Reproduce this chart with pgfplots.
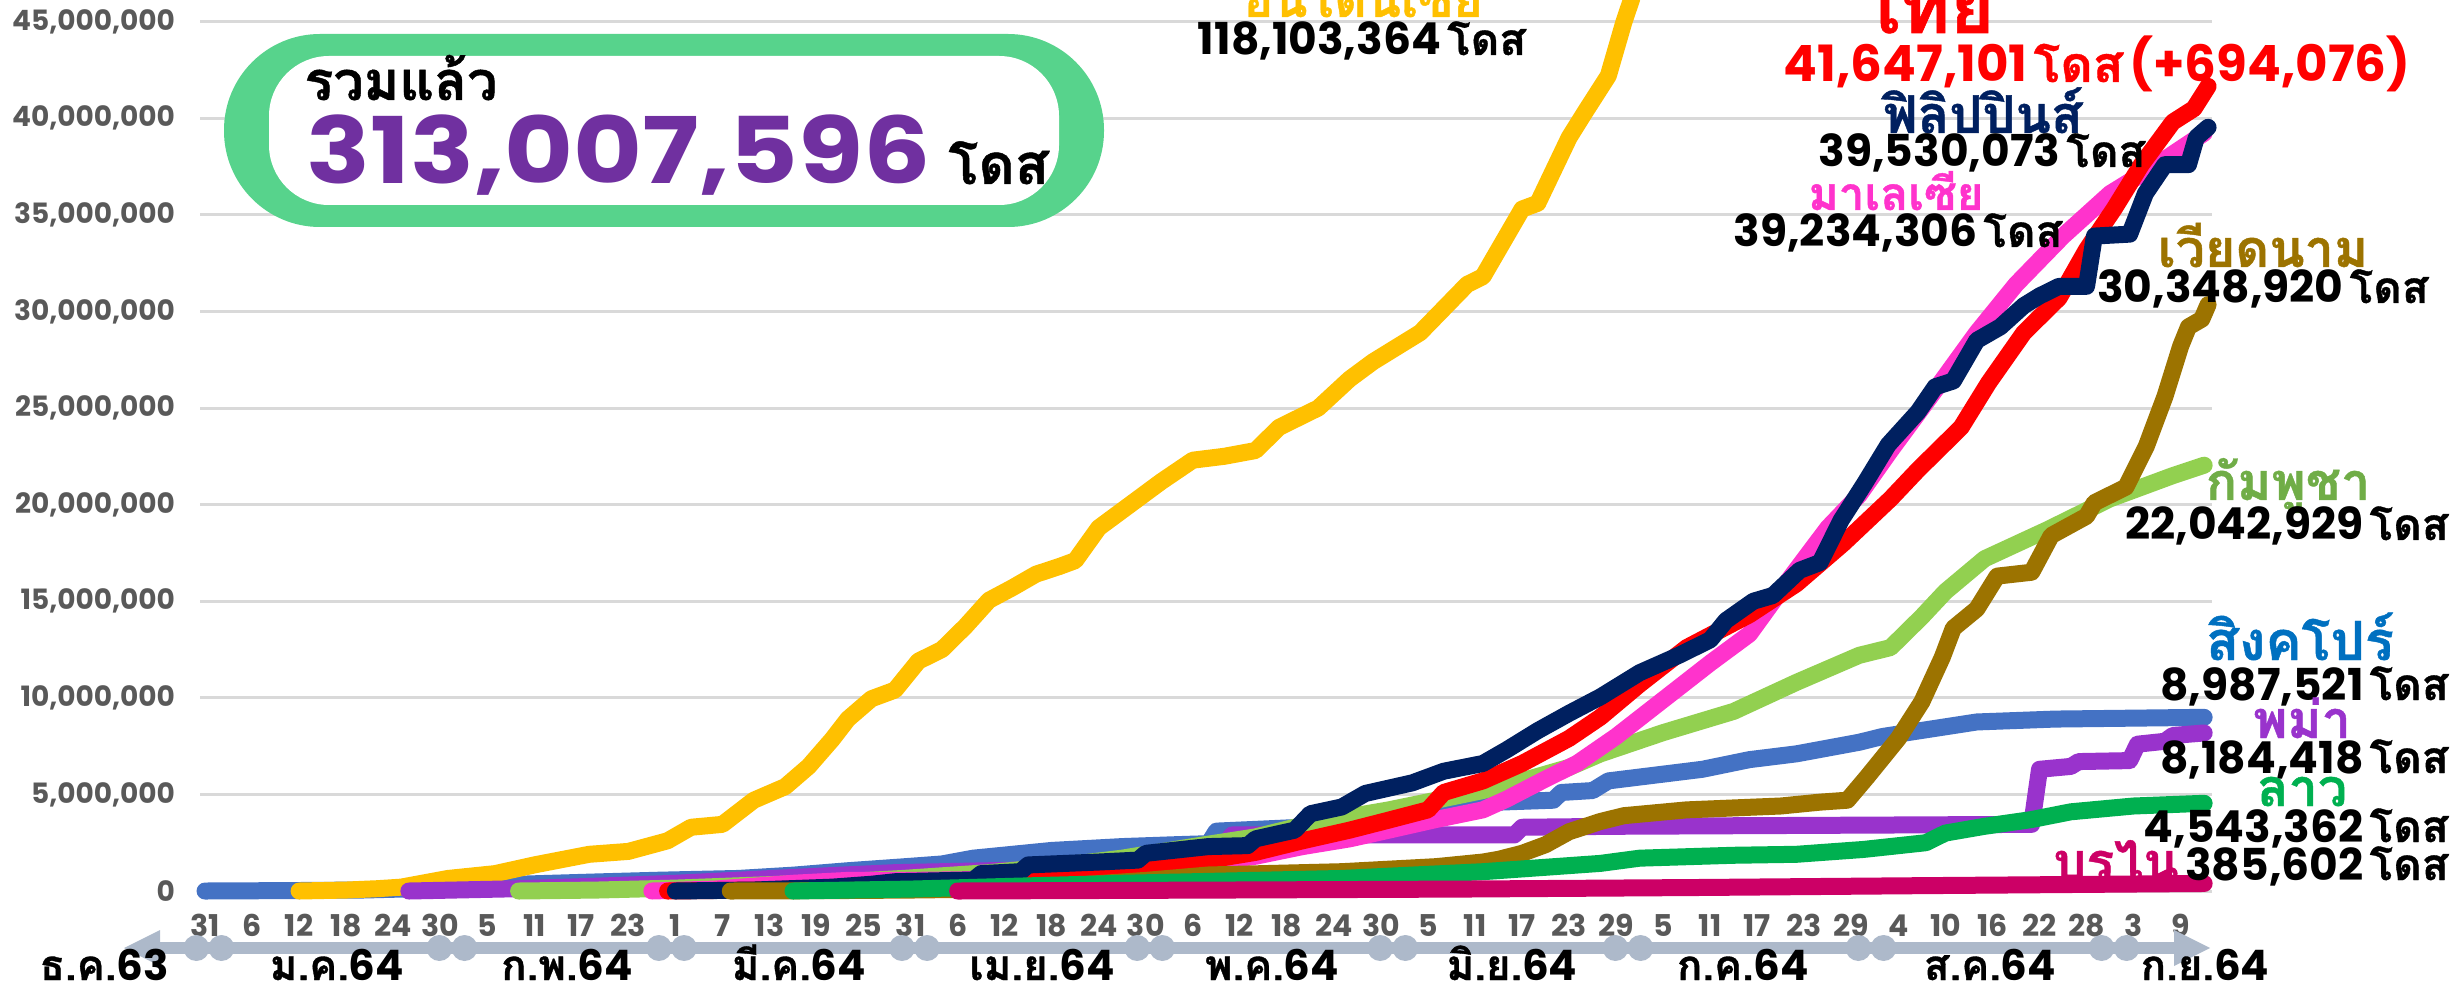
\documentclass[border=0pt]{standalone}
\usepackage{pgfplots}
\pgfplotsset{compat=1.18}
\usepackage{fontspec}
\setmainfont{Poppins}
\newfontfamily\thf[Script=Thai, BoldFeatures={FakeBold=0.8}]{Loma}
\newfontfamily\pop{Poppins}
\newfontfamily\popw[FakeStretch=1.15]{Poppins}
\definecolor{sgc}{HTML}{4472C4}
\definecolor{idc}{HTML}{FFC000}
\definecolor{mmc}{HTML}{9933CC}
\definecolor{khc}{HTML}{92D050}
\definecolor{myc}{HTML}{FF33CC}
\definecolor{thc}{HTML}{FF0000}
\definecolor{phc}{HTML}{002060}
\definecolor{vnc}{HTML}{9C7300}
\definecolor{lac}{HTML}{00B050}
\definecolor{bnc}{HTML}{CC0066}
\definecolor{gridc}{HTML}{D9D9D9}
\definecolor{tickc}{HTML}{595959}
\definecolor{arrc}{HTML}{ADB9CA}
\definecolor{boxc}{HTML}{57D38C}
\definecolor{bigc}{HTML}{7030A0}
\definecolor{khtext}{HTML}{70AD47}
\definecolor{sgtext}{HTML}{0070C0}
\newcommand\fs[1]{\fontsize{#1}{#1}\selectfont}
\newcommand\dose[2]{{\pop\bfseries\fs{#1}#2}\hspace{0.3em}{\thf\bfseries\fs{#1}โดส}}
\newcommand\mon[3]{{\thf\bfseries\fs{#1}#2}{\pop\bfseries\fs{#1}#3}}
\begin{document}
\begin{tikzpicture}
\begin{axis}[
  at={(100pt,41.7pt)}, anchor=south west,
  scale only axis, width=1006pt, height=451.3pt,
  xmin=-0.64, xmax=256, ymin=-0.6, ymax=46.12,
  axis line style={draw=none},
  tick style={draw=none},
  major tick length=0pt,
  no markers,
  ytick={0,5,10,15,20,25,30,35,40,45},
  yticklabels={0,{5,000,000},{10,000,000},{15,000,000},{20,000,000},{25,000,000},{30,000,000},{35,000,000},{40,000,000},{45,000,000}},
  ymajorgrids, grid style={line width=1.5pt, gridc},
  xtick={0,6,...,252},
  xticklabels={31,6,12,18,24,30,5,11,17,23,1,7,13,19,25,31,6,12,18,24,30,6,12,18,24,30,5,11,17,23,29,5,11,17,23,29,4,10,16,22,28,3,9},
  xmajorgrids=false,
  yticklabel style={font=\pop\bfseries\fs{14}, text=tickc, anchor=east, xshift=-9pt},
  xticklabel style={font=\pop\bfseries\fs{15}, text=tickc, anchor=base, yshift=-17pt},
  clip=false,
  every axis plot/.append style={line width=8.5pt, line join=round, line cap=round},
]
% Singapore
\addplot[sgc] coordinates {(0,0) (10,0.02) (20,0.05) (30,0.15) (40,0.35) (50,0.47) (58,0.56) (68,0.65) (75,0.82) (82,1.05) (89,1.25) (94,1.4) (98,1.7) (108,2.1) (117,2.3) (124,2.4) (128,2.45) (129,3.1) (140,3.3) (150,3.9) (157,4.3) (165,4.6) (172,4.7) (173,5.1) (177,5.2) (179,5.7) (185,6.0) (191,6.3) (197,6.8) (203,7.1) (211,7.7) (214,8.0) (222,8.5) (226,8.75) (236,8.9) (255,8.99)};
% Indonesia
\addplot[idc] coordinates {(12,0) (18,0.05) (22,0.12) (25,0.2) (31,0.65) (37,0.9) (42,1.35) (49,1.9) (54,2.05) (59,2.6) (62,3.3) (66,3.45) (70,4.7) (74,5.4) (77,6.45) (80,7.85) (82,8.9) (85,9.95) (88,10.4) (91,11.9) (94,12.5) (97,13.7) (100,15.05) (103,15.7) (106,16.4) (109,16.8) (111,17.1) (114,18.8) (118,20.0) (122,21.2) (126,22.3) (130,22.5) (134,22.8) (137,24.0) (140,24.6) (142,25.0) (146,26.5) (149,27.4) (155,28.9) (161,31.4) (163,31.8) (168,35.3) (170,35.6) (174,39.0) (176,40.3) (179,42.2) (181,45.0) (182,46.2)};
% Myanmar
\addplot[mmc] coordinates {(26,0) (40,0.12) (50,0.25) (60,0.4) (70,0.6) (80,0.8) (88,0.95) (100,1.05) (114,1.17) (128,1.4) (131,2.9) (167,2.9) (168,3.3) (180,3.35) (233,3.45) (234,6.3) (238,6.45) (239,6.7) (245.5,6.75) (246.5,7.6) (250,7.75) (251,8.05) (255,8.18)};
% Cambodia
\addplot[khc] coordinates {(40,0) (50,0.05) (60,0.15) (70,0.3) (80,0.45) (89,0.65) (100,0.95) (108,1.26) (117,1.7) (126,2.3) (134,2.8) (140,3.4) (146,3.85) (151,4.2) (157,4.7) (163,5.2) (168,5.7) (174,6.4) (178,7.1) (186,8.2) (195,9.3) (203,10.8) (211,12.2) (215,12.6) (219,14.2) (222,15.5) (227,17.2) (235,18.7) (243,20.3) (251,21.5) (255,22.04)};
% Malaysia
\addplot[myc] coordinates {(57,0) (65,0.1) (75,0.4) (82,0.55) (90,0.55) (100,0.6) (110,0.8) (120,1.1) (128,1.5) (134,1.8) (140,2.3) (146,2.7) (151,3.15) (157,3.7) (163,4.2) (166,4.75) (171,5.8) (175,6.6) (180,8.0) (186,9.9) (192,11.8) (197,13.3) (202,16.1) (207,18.8) (211,20.5) (215,22.8) (221,26.1) (226,28.9) (231,31.4) (237,33.9) (243,36.1) (249,37.6) (255,39.23)};
% Thailand
\addplot[thc] coordinates {(59,0) (70,0.05) (80,0.15) (90,0.2) (100,0.3) (108,0.57) (114,0.9) (123,1.26) (128,1.6) (134,2.0) (140,2.6) (146,3.15) (151,3.67) (156,4.2) (158,5.1) (163,5.7) (168,6.6) (174,7.9) (178,9.0) (183,10.7) (189,12.6) (197,14.3) (203,15.9) (209,18.0) (215,20.3) (218.5,21.8) (224,24.0) (227.5,26.3) (232,28.9) (236.5,30.7) (240,33.2) (243.5,35.3) (247,37.6) (251,39.8) (253.7,40.5) (255.5,41.65)};
% Philippines
\addplot[phc] coordinates {(60,0) (70,0.05) (80,0.2) (85,0.35) (88,0.48) (98,0.57) (99,0.9) (104,1.0) (105,1.35) (114,1.5) (119,1.6) (120,1.95) (128,2.3) (133,2.35) (134,2.7) (139,3.15) (141,4.0) (145,4.35) (148,5.05) (154,5.6) (158,6.2) (163,6.6) (166,7.3) (170,8.3) (174,9.2) (178,10.05) (183,11.3) (188,12.2) (192,13.0) (194,14.0) (197.5,15.0) (200,15.3) (203.4,16.6) (206,17.0) (208.7,19.2) (211.7,21.1) (214.7,23.1) (218.5,24.8) (220.7,26.1) (223,26.4) (226,28.5) (229,29.2) (232,30.3) (234,30.8) (236.5,31.3) (240,31.3) (241,33.9) (245.5,34.0) (247.5,36.1) (250,37.6) (253,37.6) (254,39.0) (255.5,39.53)};
% Vietnam
\addplot[vnc] coordinates {(67,0) (80,0.02) (90,0.05) (100,0.1) (111,0.3) (120,0.55) (128,0.83) (145,1.0) (157,1.26) (163,1.5) (165,1.64) (168,1.95) (171,2.4) (174,3.07) (178,3.6) (181,3.9) (189,4.2) (201,4.4) (206,4.6) (209.5,4.7) (212,5.9) (216,7.9) (219,9.8) (221.6,12.1) (223,13.6) (226,14.6) (228.6,16.3) (233,16.5) (235.5,18.4) (240,19.4) (241,20.1) (245,20.9) (247.6,23.0) (250,25.6) (252,28.2) (253,29.2) (254.7,29.6) (255.5,30.35)};
% Laos
\addplot[lac] coordinates {(75,0) (90,0.1) (117,0.4) (145,0.65) (163,1.0) (170,1.2) (178,1.43) (183,1.7) (195,1.85) (203,1.9) (211.5,2.15) (219.5,2.5) (222,3.0) (227,3.35) (233,3.7) (238,4.1) (246,4.4) (255,4.54)};
% Brunei
\addplot[bnc] coordinates {(96,0) (130,0.05) (160,0.1) (190,0.18) (220,0.28) (255,0.39)};
\end{axis}

\begin{scope}[x=0.5pt,y=-0.5pt,yshift=493pt]
% total box
\fill[boxc, rounded corners=48pt] (224,34) rectangle (1104,227);
\fill[white, rounded corners=30pt] (269,56) rectangle (1059,205);
\node[anchor=base west, inner sep=0] at (304,100) {\thf\bfseries\fs{27}รวมแล้ว};
\node[anchor=base west, inner sep=0, text=bigc] at (306,184) {\popw\bfseries\fs{46}313,007,596};
\node[anchor=base west, inner sep=0] at (948,184) {\thf\bfseries\fs{28}โดส};
% x axis decoration
\draw[arrc, line width=6pt] (150,948) -- (2180,948);
\fill[arrc] (124,948) -- (160,930) -- (160,966) -- cycle;
\fill[arrc] (2210,948) -- (2174,930) -- (2174,966) -- cycle;
\foreach \b in {0.5,31.5,59.5,90.5,120.5,151.5,181.5,212.5,243.5}{
  \fill[arrc] ({205+7.84*(\b-1.6)},948) circle[radius=6.5pt];
  \fill[arrc] ({205+7.84*(\b+1.6)},948) circle[radius=6.5pt];
}
\node[anchor=base, inner sep=0] at (104,980) {\mon{21}{ธ.ค.}{63}};
\node[anchor=base, inner sep=0] at (337,980) {\mon{21}{ม.ค.}{64}};
\node[anchor=base, inner sep=0] at (567,980) {\mon{21}{ก.พ.}{64}};
\node[anchor=base, inner sep=0] at (799,980) {\mon{21}{มี.ค.}{64}};
\node[anchor=base, inner sep=0] at (1042,980) {\mon{21}{เม.ย.}{64}};
\node[anchor=base, inner sep=0] at (1272,980) {\mon{21}{พ.ค.}{64}};
\node[anchor=base, inner sep=0] at (1512,980) {\mon{21}{มิ.ย.}{64}};
\node[anchor=base, inner sep=0] at (1743,980) {\mon{21}{ก.ค.}{64}};
\node[anchor=base, inner sep=0] at (1990,980) {\mon{21}{ส.ค.}{64}};
\node[anchor=base, inner sep=0] at (2205,980) {\mon{21}{ก.ย.}{64}};
% series labels
\node[anchor=base, inner sep=0, text=idc] at (1363,17) {\thf\bfseries\fs{25}อินโดนีเซีย};
\node[anchor=base, inner sep=0] at (1362,55) {\dose{22}{118,103,364}};
\node[anchor=base, inner sep=0, text=thc] at (1926,33) {\thf\bfseries\fs{38}ไทย};
\node[anchor=base, inner sep=0, text=thc] at (2097,82) {\dose{25}{41,647,101}\hspace{0.3em}{\pop\bfseries\fs{25}(+694,076)}};
\node[anchor=base, inner sep=0, text=phc] at (1983,133) {\thf\bfseries\fs{26}ฟิลิปปินส์};
\node[anchor=base, inner sep=0] at (1982,167) {\dose{22}{39,530,073}};
\node[anchor=base, inner sep=0, text=myc] at (1896,210) {\thf\bfseries\fs{23}มาเลเซีย};
\node[anchor=base, inner sep=0] at (1898,247) {\dose{22}{39,234,306}};
\node[anchor=base, inner sep=0, text=vnc] at (2263,267) {\thf\bfseries\fs{26}เวียดนาม};
\node[anchor=base, inner sep=0] at (2263,303) {\dose{22}{30,348,920}};
\node[anchor=base, inner sep=0, text=khtext] at (2288,500) {\thf\bfseries\fs{26}กัมพูชา};
\node[anchor=base east, inner sep=0] at (2449,540) {\dose{22}{22,042,929}};
\node[anchor=base, inner sep=0, text=sgtext] at (2300,660) {\thf\bfseries\fs{27}สิงคโปร์};
\node[anchor=base east, inner sep=0] at (2449,700) {\dose{22}{8,987,521}};
\node[anchor=base, inner sep=0, text=mmc] at (2302,738) {\thf\bfseries\fs{26}พม่า};
\node[anchor=base east, inner sep=0] at (2449,773) {\dose{22}{8,184,418}};
\node[anchor=base, inner sep=0, text=lac] at (2302,806) {\thf\bfseries\fs{26}ลาว};
\node[anchor=base east, inner sep=0] at (2449,842) {\dose{22}{4,543,362}};
\node[anchor=base, inner sep=0, text=bnc] at (2116,880) {\thf\bfseries\fs{26}บรไน};
\node[anchor=base east, inner sep=0] at (2449,880) {\dose{22}{385,602}};
\end{scope}
\pgfresetboundingbox
\path (0,0) rectangle (1228pt,493pt);
\end{tikzpicture}
\end{document}
